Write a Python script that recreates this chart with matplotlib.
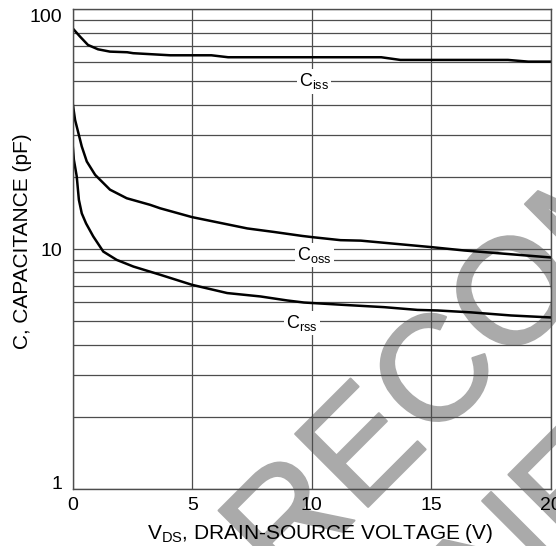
import numpy as np
import matplotlib
matplotlib.use('Agg')
import matplotlib.pyplot as plt
import matplotlib.patheffects as pe
from matplotlib.ticker import FixedLocator, NullFormatter

plt.rcParams['font.family'] = ['Liberation Sans', 'DejaVu Sans']
plt.rcParams['mathtext.default'] = 'regular'

# Datos (V_DS en V, capacidad en pF)
vds_iss = [0, 0.31, 0.64, 1.06, 1.56, 2.28, 2.53, 4.08, 5.8, 6.5, 12.9, 13.7, 18.2, 19.05, 20]
c_iss = [83.3, 76.9, 71.0, 68.1, 66.6, 66.2, 65.6, 64.3, 64.3, 63.1, 63.1, 61.5, 61.5, 60.5, 60.5]

vds_oss = [0, 0.1, 0.26, 0.38, 0.59, 0.94, 1.56, 2.26, 3.24, 3.66, 4.99, 7.3, 8.4, 9.6,
           10.09, 11.2, 12.05, 14.98, 16.38, 20]
c_oss = [40.6, 34.6, 29.9, 26.8, 23.2, 20.4, 17.7, 16.3, 15.3, 14.8, 13.6, 12.2, 11.8, 11.35,
         11.2, 10.9, 10.85, 10.2, 9.87, 9.23]

vds_rss = [0, 0.05, 0.17, 0.26, 0.38, 0.56, 0.86, 1.28, 1.84, 2.54, 3.66, 4.99, 6.46, 7.85,
           8.97, 9.67, 11.28, 13.02, 14.42, 15.26, 16.66, 18.33, 20]
c_rss = [27.2, 23.6, 20.1, 16.05, 14.1, 12.8, 11.3, 9.77, 9.02, 8.46, 7.82, 7.1, 6.56, 6.35,
         6.11, 5.99, 5.86, 5.73, 5.58, 5.55, 5.45, 5.29, 5.19]

x_ticks = [0, 5, 10, 15, 20]
y_ticks = [1, 10, 100]
y_minor = [2, 3, 4, 5, 6, 7, 8, 9, 20, 30, 40, 50, 60, 70, 80, 90]

grid_col = '#4d4d4d'

fig = plt.figure(figsize=(5.56, 5.46), dpi=100)
ax = fig.add_axes([0.1307, 0.1044, 0.8603, 0.8786])
ax.set_facecolor('none')

# marca de agua
wm = dict(rotation=45, rotation_mode='anchor', ha='center', va='baseline',
          fontsize=108, color='#aaaaaa', zorder=-1,
          path_effects=[pe.withStroke(linewidth=1.5, foreground='#aaaaaa')])
fig.text(584 / 556, 1 - 291 / 546, 'NOT RECOMMENDED', **wm)
fig.text(711 / 556, 1 - 418 / 546, 'FOR NEW DESIGN', **wm)

ax.plot(vds_iss, c_iss, color='black', lw=1.8)
ax.plot(vds_oss, c_oss, color='black', lw=1.8)
ax.plot(vds_rss, c_rss, color='black', lw=1.8)

ax.set_yscale('log')
ax.set_xlim(0, 20)
ax.set_ylim(1, 100)
ax.set_xticks(x_ticks)
ax.set_xticklabels([str(v) for v in x_ticks])
ax.yaxis.set_major_locator(FixedLocator(y_ticks))
ax.set_yticklabels([str(v) for v in y_ticks])
ax.yaxis.set_minor_locator(FixedLocator(y_minor))
ax.yaxis.set_minor_formatter(NullFormatter())
ax.tick_params(which='both', length=0, labelsize=14)
ax.tick_params(axis='x', pad=6)
ax.tick_params(axis='y', pad=7.5)

# etiquetas extremas dentro del rango del eje
yt = ax.yaxis.get_major_ticks()
yt[0].label1.set_verticalalignment('baseline')
yt[2].label1.set_verticalalignment('top')

ax.grid(True, which='both', color=grid_col, lw=0.9)
for s in ax.spines.values():
    s.set_color(grid_col)
    s.set_linewidth(1.0)

box = dict(facecolor='white', edgecolor='none', pad=1.5)
ax.text(10.1, 50, 'C$_{iss}$', fontsize=13, ha='center', va='center', bbox=box)
ax.text(10.1, 9.46, 'C$_{oss}$', fontsize=13, ha='center', va='center', bbox=box)
ax.text(9.6, 4.93, 'C$_{rss}$', fontsize=13, ha='center', va='center', bbox=box)

ax.set_xlabel('V$_{DS}$, DRAIN-SOURCE VOLTAGE (V)', fontsize=15)
ax.set_ylabel('C, CAPACITANCE (pF)', fontsize=15)
ax.xaxis.set_label_coords(0.517, -0.068)
ax.yaxis.set_label_coords(-0.085, 0.516)

fig.savefig('out.png', dpi=100)
